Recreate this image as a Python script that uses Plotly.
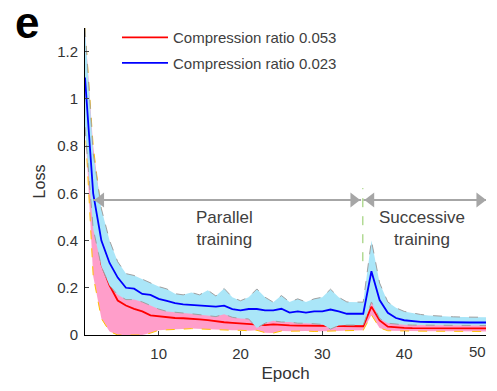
import plotly.graph_objects as go

epochs = list(range(1, 51))

# Compression ratio 0.053 (red): mean, band upper, band lower
red_mean = [1.12, 0.55, 0.30, 0.21, 0.146, 0.125, 0.111, 0.100, 0.083, 0.079,
            0.075, 0.072, 0.071, 0.070, 0.066, 0.063, 0.057, 0.054, 0.051, 0.048,
            0.046, 0.045, 0.042, 0.045, 0.042, 0.041, 0.040, 0.040, 0.040, 0.039,
            0.039, 0.038, 0.038, 0.037, 0.037, 0.120, 0.062, 0.035, 0.031, 0.030,
            0.029, 0.029, 0.028, 0.028, 0.028, 0.028, 0.028, 0.028, 0.028, 0.028]
red_upper = [1.30, 0.80, 0.52, 0.38, 0.29, 0.25, 0.22, 0.20, 0.17, 0.14,
             0.13, 0.12, 0.115, 0.11, 0.105, 0.10, 0.095, 0.095, 0.09, 0.085,
             0.08, 0.075, 0.07, 0.075, 0.07, 0.065, 0.065, 0.062, 0.06, 0.06,
             0.058, 0.058, 0.056, 0.055, 0.055, 0.145, 0.090, 0.055, 0.050, 0.048,
             0.047, 0.047, 0.046, 0.046, 0.045, 0.045, 0.045, 0.045, 0.045, 0.045]
red_lower = [0.90, 0.25, 0.07, 0.015, 0.0, 0.0, 0.0, 0.0, 0.008, 0.020,
             0.022, 0.025, 0.025, 0.027, 0.025, 0.024, 0.023, 0.022, 0.020, 0.020,
             0.018, 0.020, 0.010, 0.008, 0.017, 0.016, 0.018, 0.017, 0.015, 0.016,
             0.015, 0.017, 0.020, 0.020, 0.020, 0.085, 0.030, 0.018, 0.017, 0.017,
             0.016, 0.016, 0.016, 0.016, 0.016, 0.015, 0.015, 0.015, 0.015, 0.015]

# Compression ratio 0.023 (blue): mean, band upper, band lower
blue_mean = [1.09, 0.60, 0.40, 0.305, 0.243, 0.200, 0.196, 0.174, 0.170, 0.153,
             0.144, 0.135, 0.130, 0.128, 0.127, 0.125, 0.120, 0.124, 0.110, 0.104,
             0.110, 0.110, 0.104, 0.104, 0.111, 0.095, 0.100, 0.095, 0.100, 0.100,
             0.108, 0.100, 0.090, 0.090, 0.090, 0.270, 0.148, 0.094, 0.072, 0.0625,
             0.058, 0.056, 0.055, 0.054, 0.053, 0.053, 0.053, 0.053, 0.053, 0.053]
blue_upper = [1.30, 0.77, 0.535, 0.40, 0.31, 0.26, 0.252, 0.236, 0.222, 0.205,
              0.195, 0.175, 0.170, 0.180, 0.170, 0.190, 0.165, 0.197, 0.160, 0.145,
              0.160, 0.195, 0.160, 0.139, 0.167, 0.140, 0.153, 0.140, 0.153, 0.160,
              0.194, 0.160, 0.140, 0.139, 0.139, 0.400, 0.220, 0.140, 0.115, 0.100,
              0.092, 0.087, 0.083, 0.080, 0.078, 0.077, 0.076, 0.075, 0.075, 0.075]
blue_lower = [0.88, 0.45, 0.29, 0.21, 0.17, 0.15, 0.15, 0.14, 0.125, 0.110,
              0.100, 0.095, 0.093, 0.090, 0.087, 0.083, 0.078, 0.088, 0.075, 0.070,
              0.068, 0.030, 0.050, 0.060, 0.055, 0.055, 0.050, 0.050, 0.048, 0.045,
              0.025, 0.040, 0.042, 0.042, 0.042, 0.140, 0.070, 0.050, 0.045, 0.043,
              0.042, 0.042, 0.042, 0.042, 0.041, 0.041, 0.040, 0.040, 0.040, 0.040]

x_ticks = [10, 20, 30, 40, 50]
x_tick_text = ["10", "20", "30", "40", ""]   # "50" drawn as an edge-anchored label below
last_x_label = "50"
y_ticks = [0, 0.2, 0.4, 0.6, 0.8, 1.0, 1.2]
y_tick_text = ["0", "0.2", "0.4", "0.6", "0.8", "1", "1.2"]

FONT = "Liberation Sans, Arial, sans-serif"
TXT = "#404040"
TICK = "#333333"
PINK = "#FF9ECA"
CYAN = "#AAE6F8"

# page = 8px body margin + figure + 8px body margin = 497 x 391
W, H = 481, 375
L, R, T, B = 77, 3, 20, 43
PW, PH = W - L - R, H - T - B

fig = go.Figure()

# red band + mean
fig.add_trace(go.Scatter(x=epochs, y=red_upper, mode="lines",
                         line=dict(color="#FFC000", width=1, dash="dash"),
                         showlegend=False, hoverinfo="skip"))
fig.add_trace(go.Scatter(x=epochs, y=red_lower, mode="lines", fill="tonexty",
                         fillcolor=PINK,
                         line=dict(color="#FFC000", width=1, dash="dash"),
                         showlegend=False, hoverinfo="skip"))
fig.add_trace(go.Scatter(x=epochs, y=red_mean, mode="lines",
                         line=dict(color="#FF0000", width=1.8),
                         name="Compression ratio 0.053", legendgroup="a"))
# blue band + mean
fig.add_trace(go.Scatter(x=epochs, y=blue_upper, mode="lines",
                         line=dict(color="#A0A0A0", width=1, dash="dash"),
                         showlegend=False, hoverinfo="skip"))
fig.add_trace(go.Scatter(x=epochs, y=blue_lower, mode="lines", fill="tonexty",
                         fillcolor=CYAN,
                         line=dict(color="#A0A0A0", width=1, dash="dash"),
                         showlegend=False, hoverinfo="skip"))
fig.add_trace(go.Scatter(x=epochs, y=blue_mean, mode="lines",
                         line=dict(color="#0000FF", width=1.8),
                         name="Compression ratio 0.023", legendgroup="b"))

# arrows (phase annotations)
ARROW = "#A6A6A6"
arrow_y = 0.572
for (x0, x1) in [(2.0, 34.74), (35.02, 50.0)]:
    fig.add_shape(type="line", xref="x", yref="y", x0=x0, x1=x1, y0=arrow_y, y1=arrow_y,
                  line=dict(color=ARROW, width=2))
fig.add_trace(go.Scatter(x=[2.93, 35.94], y=[arrow_y, arrow_y], mode="markers",
                         marker=dict(symbol="triangle-left", size=13, color=ARROW),
                         showlegend=False, hoverinfo="skip", cliponaxis=False))
fig.add_trace(go.Scatter(x=[33.83, 49.23], y=[arrow_y, arrow_y], mode="markers",
                         marker=dict(symbol="triangle-right", size=13, color=ARROW),
                         showlegend=False, hoverinfo="skip", cliponaxis=False))
fig.add_shape(type="line", xref="x", yref="y", x0=34.95, x1=34.95, y0=0.3125, y1=0.622,
              line=dict(color="#8CC860", width=1, dash="dash"))

fig.add_annotation(x=18.07, y=0.452, xref="x", yref="y", text="Parallel<br>training",
                   showarrow=False, font=dict(family=FONT, size=17, color=TXT))
fig.add_annotation(x=42.2, y=0.452, xref="x", yref="y", text="Successive<br>training",
                   showarrow=False, font=dict(family=FONT, size=17, color=TXT))
fig.add_annotation(x=(18.5 - L) / PW, y=(T + PH - 14) / PH, xref="paper", yref="paper",
                   xanchor="center", yanchor="middle",
                   text="<b>e</b>", showarrow=False,
                   font=dict(family=FONT, size=44, color="black"))
# last x tick label, kept inside the page edge
fig.add_annotation(x=1.0 + (R - 1) / PW, y=-17 / PH, xref="paper", yref="paper",
                   xanchor="right", yanchor="middle", text=last_x_label, showarrow=False,
                   font=dict(family=FONT, size=15, color=TICK))

fig.update_layout(
    width=W, height=H,
    margin=dict(l=L, r=R, t=T, b=B),
    plot_bgcolor="white", paper_bgcolor="white",
    font=dict(family=FONT, color=TXT),
    legend=dict(x=(109 - L) / PW, y=(T + PH - 13) / PH, xanchor="left", yanchor="top",
                bgcolor="rgba(0,0,0,0)", font=dict(size=15, color=TXT, family=FONT),
                itemwidth=46, tracegroupgap=3, traceorder="grouped"),
    xaxis=dict(range=[1, 50], tickvals=x_ticks, ticktext=x_tick_text, ticks="inside",
               ticklen=4, showline=True, linecolor="black", linewidth=1, showgrid=False,
               zeroline=False, tickfont=dict(size=15, color=TICK),
               ticklabelstandoff=5,
               title=dict(text="Epoch", font=dict(size=17, color=TICK), standoff=6)),
    yaxis=dict(range=[0, 1.3], tickvals=y_ticks, ticktext=y_tick_text, ticks="inside",
               ticklen=4, showline=True, linecolor="black", linewidth=1, showgrid=False,
               zeroline=False, tickfont=dict(size=15, color=TICK),
               ticklabelstandoff=3,
               title=dict(text="Loss", font=dict(size=16, color=TICK), standoff=7)),
)

fig.write_html("out.html")
